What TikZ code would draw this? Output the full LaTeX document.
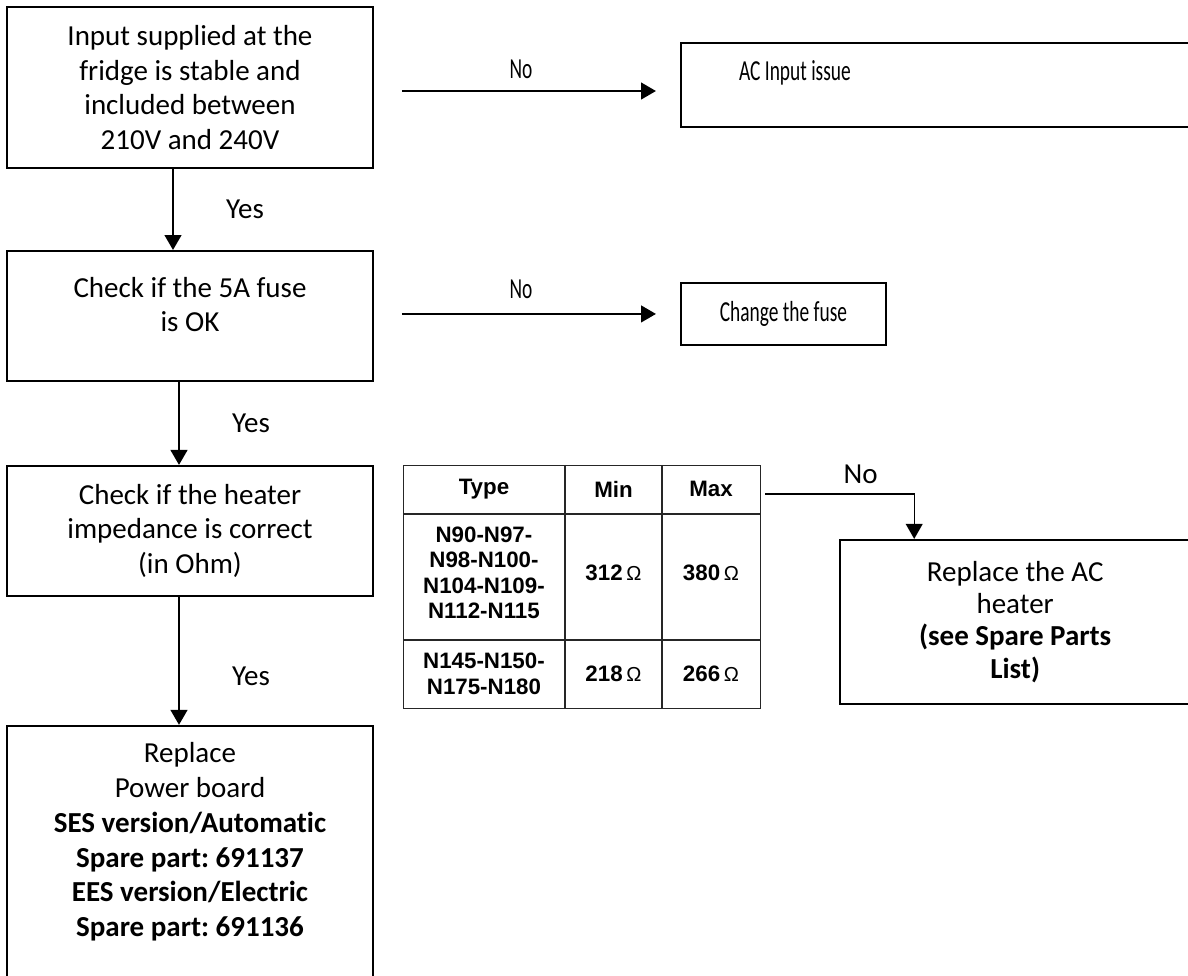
\documentclass[tikz,border=0pt]{standalone}
\usepackage{fontspec}
\setmainfont[Ligatures=NoCommon]{Carlito}
\newfontfamily\tablefont{Liberation Sans}
\usetikzlibrary{arrows.meta, calc, positioning}
\tikzstyle{block} = [rectangle, line width=1.1pt, draw=black, text centered, align=center, inner sep=0pt]
\tikzstyle{arrow} = [line width=1.25pt, -{Triangle[length=8.5pt,width=9.5pt]}]
\tikzstyle{thinarrow} = [line width=0.8pt, -{Triangle[length=8.5pt,width=9.5pt]}]
\tikzstyle{cell} = [font=\tablefont\bfseries\fontsize{12.7}{14.5}\selectfont, align=center]
\tikzstyle{grid} = [line width=0.7pt, draw=black!85]
\newcommand{\ohm}{\,{\mdseries\fontsize{11.5}{14}\selectfont Ω}}
\newcommand{\narrow}[1]{\scalebox{0.67}[1]{#1}}
\frenchspacing

\begin{document}
\begin{tikzpicture}[font=\fontsize{16.5}{19.8}\selectfont]
	\useasboundingbox (0,0) rectangle (23.76,-19.5);
	% left column
	\node (Input) [block, minimum width=7.32cm, minimum height=3.22cm] at (3.8,-1.75) {Input supplied at the\\fridge is stable and\\included between\\210V and 240V};
	\node (Fuse) [block, minimum width=7.32cm, minimum height=2.6cm, below = 1.62cm of Input] {};
	\node (FuseText) [align=center] at ($(Fuse.center)+(0,0.23)$) {Check if the 5A fuse\\is OK};
	\node (Impedance) [block, minimum width=7.32cm, minimum height=2.6cm, below = 1.66cm of Fuse] {Check if the heater\\impedance is correct\\(in Ohm)};
	\node (PowerBoard) [block, minimum width=7.32cm, minimum height=5.06cm, below = 2.56cm of Impedance] {};
	\node (PowerBoardText) [align=center] at ($(PowerBoard.center)+(0,0.21)$) {Replace\\Power board\\\textbf{SES version/Automatic}\\\textbf{Spare part: 691137}\\\textbf{EES version/Electric}\\\textbf{Spare part: 691136}};
	% right column
	\node (ACIssue) [block, minimum width=10.16cm, minimum height=1.68cm, right = 6.12cm of Input, yshift=0.05cm] {};
	\node (ACIssueText) at ($(ACIssue.center)+(-2.8,0.24)$) {\narrow{AC Input issue}};
	\node (ChangeFuse) [block, minimum width=4.1cm, minimum height=1.24cm, right = 6.12cm of Fuse, yshift=0.04cm] {\narrow{Change the fuse}};
	% impedance table
	\node (HeaterTable) [rectangle, grid, minimum width=7.14cm, minimum height=4.86cm, inner sep=0pt, right = 0.58cm of Impedance.north east, anchor=north west] {};
	\draw [grid] ($(HeaterTable.north west)+(3.24,0)$) -- ($(HeaterTable.south west)+(3.24,0)$);
	\draw [grid] ($(HeaterTable.north west)+(5.18,0)$) -- ($(HeaterTable.south west)+(5.18,0)$);
	\draw [grid] ($(HeaterTable.north west)+(0,-0.98)$) -- ($(HeaterTable.north east)+(0,-0.98)$);
	\draw [grid] ($(HeaterTable.north west)+(0,-3.5)$) -- ($(HeaterTable.north east)+(0,-3.5)$);
	\node (TypeHead) [cell] at ($(HeaterTable.north west)+(1.62,-0.49)$) {Type};
	\node (MinHead) [cell] at ($(HeaterTable.north west)+(4.21,-0.49)$) {Min};
	\node (MaxHead) [cell] at ($(HeaterTable.north west)+(6.16,-0.49)$) {Max};
	\node (TypeOne) [cell] at ($(HeaterTable.north west)+(1.62,-2.16)$) {N90-N97-\\N98-N100-\\N104-N109-\\N112-N115};
	\node (MinOne) [cell] at ($(HeaterTable.north west)+(4.21,-2.16)$) {312\ohm};
	\node (MaxOne) [cell] at ($(HeaterTable.north west)+(6.16,-2.16)$) {380\ohm};
	\node (TypeTwo) [cell] at ($(HeaterTable.north west)+(1.62,-4.18)$) {N145-N150-\\N175-N180};
	\node (MinTwo) [cell] at ($(HeaterTable.north west)+(4.21,-4.18)$) {218\ohm};
	\node (MaxTwo) [cell] at ($(HeaterTable.north west)+(6.16,-4.18)$) {266\ohm};
	\node (ReplaceHeater) [block, font=\fontsize{16.5}{18.4}\selectfont, minimum width=7cm, minimum height=3.28cm, below right = 1.48cm and 1.56cm of HeaterTable.north east, anchor=north west] {Replace the AC\\heater\\\textbf{(see Spare Parts}\\\textbf{List)}};
	\coordinate (HeaterIn) at ($(ReplaceHeater.north west)+(1.5,0)$);
	% connectors
	\draw [arrow] ([xshift=-0.34cm]Input.south) -- ([xshift=-0.34cm]Fuse.north) node[midway, xshift=1.44cm] {Yes};
	\draw [arrow] ([xshift=-0.22cm]Fuse.south) -- ([xshift=-0.22cm]Impedance.north) node[midway, xshift=1.44cm] {Yes};
	\draw [arrow] ([xshift=-0.22cm]Impedance.south) -- ([xshift=-0.22cm]PowerBoard.north) node[pos=0.62, xshift=1.44cm] {Yes};
	\draw [arrow, shorten <=0.56cm, shorten >=0.48cm] ([yshift=-0.07cm]Input.east) -- ([yshift=-0.07cm]Input.east -| ACIssue.west) node[midway, xshift=-0.12cm, above=3pt] {\narrow{No}};
	\draw [arrow, shorten <=0.56cm, shorten >=0.48cm] ([yshift=0.04cm]Fuse.east) -- ([yshift=0.04cm]Fuse.east -| ChangeFuse.west) node[midway, xshift=-0.12cm, above=5pt] {\narrow{No}};
	\draw [thinarrow] ($(HeaterTable.north east)+(0.08,-0.58)$) -| node[pos=0.32, above=2pt] {No} (HeaterIn);
\end{tikzpicture}
\end{document}
